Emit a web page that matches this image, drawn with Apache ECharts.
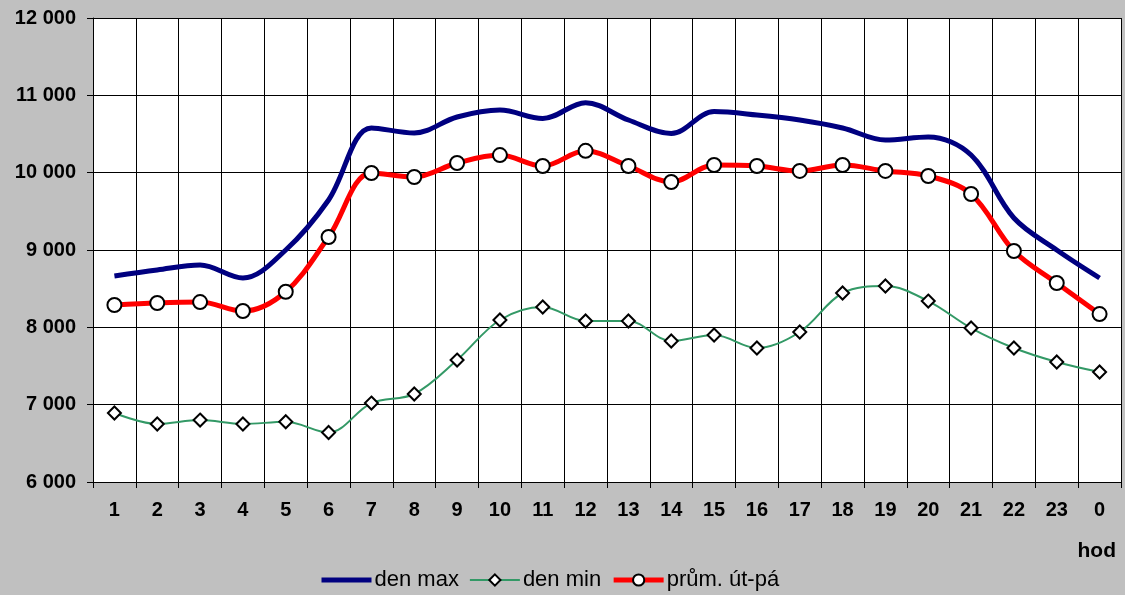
<!DOCTYPE html>
<html>
<head>
<meta charset="utf-8">
<script src="https://cdn.jsdelivr.net/npm/echarts@6/dist/echarts.min.js"></script>
<style>
  html, body { margin: 0; padding: 0; background: #c0c0c0; }
  #main { width: 1125px; height: 595px; }
</style>
</head>
<body>
<div id="main"></div>
<script>
// hodiny
var hours = ['1','2','3','4','5','6','7','8','9','10','11','12','13','14','15','16','17','18','19','20','21','22','23','0'];
// den max
var denMax = [8664,8742,8806,8638,9000,9647,10578,10513,10720,10810,10700,10905,10681,10505,10790,10746,10681,10578,10422,10461,10228,9414,9000,8638];
// den min
var denMin = [6892,6750,6801,6750,6779,6640,7021,7138,7577,8095,8263,8082,8082,7823,7901,7733,7940,8444,8534,8340,7991,7733,7552,7422];
// průměr út-pá
var prum = [8289,8315,8327,8211,8460,9168,9996,9944,10125,10228,10086,10282,10086,9879,10099,10086,10022,10099,10022,9957,9724,8987,8573,8172];

var fmt = function (v) {
  return String(v).replace(/\B(?=(\d{3})+(?!\d))/g, ' ');
};

var myChart = echarts.init(document.getElementById('main'));
myChart.setOption({
  backgroundColor: '#c0c0c0',
  animation: false,
  textStyle: { fontFamily: 'Liberation Sans, Arial, sans-serif' },
  grid: { left: 93, right: 4, top: 18, bottom: 113, show: true, backgroundColor: '#ffffff', borderWidth: 0 },
  legend: {
    bottom: -1,
    left: 314,
    itemWidth: 50,
    itemHeight: 14,
    itemGap: 10,
    lineStyle: { width: 'inherit' },
    textStyle: { fontSize: 22, color: '#000', padding: [0, 0, 0, -2] },
    data: [
      { name: 'den max', itemStyle: { opacity: 0 } },
      'den min',
      'prům. út-pá'
    ]
  },
  graphic: [{
    type: 'text',
    right: 9,
    top: 541,
    style: { text: 'hod', fontSize: 21, fontWeight: 'bold', fill: '#000', fontFamily: 'Liberation Sans, Arial, sans-serif' }
  }],
  xAxis: {
    type: 'category',
    data: hours,
    boundaryGap: true,
    axisLine: { lineStyle: { color: '#000', width: 1 } },
    axisTick: { show: true, length: 6, lineStyle: { color: '#000' } },
    axisLabel: { fontSize: 20, fontWeight: 'bold', color: '#000', margin: 18 },
    splitLine: { show: true, lineStyle: { color: '#000', width: 1 } }
  },
  yAxis: {
    type: 'value',
    min: 6000,
    max: 12000,
    interval: 1000,
    axisLine: { show: true, lineStyle: { color: '#000', width: 1 } },
    axisTick: { show: true, length: 6, lineStyle: { color: '#000' } },
    axisLabel: { fontSize: 20, fontWeight: 'bold', color: '#000', margin: 17, formatter: fmt },
    splitLine: { show: true, lineStyle: { color: '#000', width: 1 } }
  },
  series: [
    {
      name: 'den max',
      type: 'line',
      data: denMax,
      smooth: 0.35,
      symbol: 'none',
      lineStyle: { color: '#000080', width: 5 },
      itemStyle: { color: '#000080' },
      z: 3
    },
    {
      name: 'den min',
      type: 'line',
      data: denMin,
      smooth: 0.35,
      symbol: 'diamond',
      symbolSize: 13,
      lineStyle: { color: '#339966', width: 2 },
      itemStyle: { color: '#ffffff', borderColor: '#000', borderWidth: 2 },
      z: 2
    },
    {
      name: 'prům. út-pá',
      type: 'line',
      data: prum,
      smooth: 0.35,
      symbol: 'circle',
      symbolSize: 14,
      lineStyle: { color: '#ff0000', width: 5 },
      itemStyle: { color: '#ffffff', borderColor: '#000', borderWidth: 2 },
      z: 4
    }
  ]
});
</script>
</body>
</html>
